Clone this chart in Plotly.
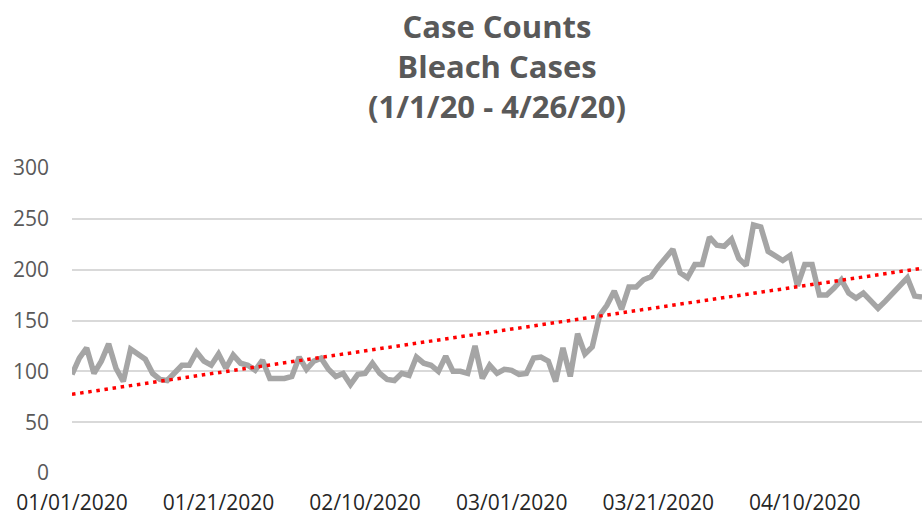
import numpy as np
import pandas as pd
import plotly.graph_objects as go

start_date = "2020-01-01"
end_date = "2020-04-26"
case_counts = [
    97, 113, 123, 98, 110, 127, 103, 90, 122, 117,
    112, 98, 92, 91, 99, 106, 106, 119, 110, 106,
    117, 103, 116, 108, 106, 101, 111, 93, 93, 93,
    95, 114, 102, 110, 113, 102, 95, 98, 87, 97,
    98, 108, 98, 92, 91, 98, 96, 114, 108, 106,
    100, 115, 100, 100, 98, 125, 93, 106, 98, 102,
    101, 97, 98, 113, 114, 110, 90, 123, 95, 137,
    117, 124, 155, 165, 179, 161, 183, 183, 190, 193,
    203, 212, 220, 197, 192, 205, 205, 232, 224, 223,
    230, 211, 204, 244, 242, 218, 214, 209, 214, 184,
    205, 205, 175, 175, 182, 190, 177, 172, 177, 170,
    162, 169, 177, 184, 192, 174, 173,
]
dates = pd.date_range(start_date, end_date, freq="D")
y_ticks = [0, 50, 100, 150, 200, 250, 300]
title_lines = ["Case Counts", "Bleach Cases", "(1/1/20 - 4/26/20)"]

# Linear trendline (least squares), as Excel's linear trendline
idx = np.arange(len(case_counts))
slope, intercept = np.polyfit(idx, np.array(case_counts, dtype=float), 1)
trend = intercept + slope * idx

fig = go.Figure()
fig.add_trace(go.Scatter(
    x=dates, y=case_counts, mode="lines",
    line=dict(color="#A5A5A5", width=5.5),
    showlegend=False, hoverinfo="x+y",
))
fig.add_trace(go.Scatter(
    x=dates, y=trend, mode="lines",
    line=dict(color="#FF0000", width=3.5, dash="3.5px,4.7px"),
    showlegend=False, hoverinfo="skip",
))

fig.update_layout(
    width=922, height=517,
    margin=dict(l=72, r=0, t=168, b=44),
    paper_bgcolor="white", plot_bgcolor="white",
    title=dict(
        text="<b>" + "<br>".join(title_lines) + "</b>",
        x=0.5, xref="paper", xanchor="center",
        y=0.927, yref="container", yanchor="top",
        font=dict(family="Open Sans", size=31, color="#595959"),
    ),
    xaxis=dict(
        type="date",
        range=[start_date, end_date],
        tick0=start_date, dtick=20 * 86400000,
        tickformat="%m/%d/%Y",
        showgrid=False, zeroline=False, showline=False,
        ticks="",
        tickfont=dict(family="Open Sans", size=21, color="#262626"),
        ticklabelstandoff=15,
        automargin=False,
        fixedrange=True,
    ),
    yaxis=dict(
        range=[0, 300],
        tickvals=y_ticks,
        showgrid=True, gridcolor="#D9D9D9", gridwidth=1.5,
        zeroline=False, showline=False,
        ticks="",
        tickfont=dict(family="Open Sans", size=21, color="#595959"),
        ticklabelstandoff=22,
        automargin=False,
        fixedrange=True,
    ),
)

fig.write_html(
    "out.html",
    config={"displayModeBar": False},
    post_script="document.body.style.margin='0';document.body.style.overflow='hidden';",
)
